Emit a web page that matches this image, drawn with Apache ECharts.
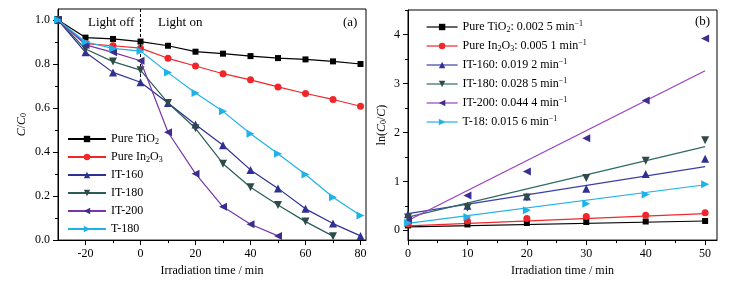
<!DOCTYPE html>
<html>
<head>
<meta charset="utf-8">
<script src="https://cdn.jsdelivr.net/npm/echarts@6/dist/echarts.min.js"></script>
<style>
  html, body { margin: 0; padding: 0; background: #fff; }
  #main { width: 755px; height: 282px; }
</style>
</head>
<body>
<div id="main"></div>
<script>
// (a) C/C0 vs time
var timeA = [-30, -20, -10, 0, 10, 20, 30, 40, 50, 60, 70, 80];
var tio2A = [1.0, 0.92, 0.914, 0.902, 0.883, 0.856, 0.847, 0.836, 0.827, 0.821, 0.812, 0.80];
var in2o3A = [1.0, 0.893, 0.883, 0.872, 0.826, 0.791, 0.756, 0.728, 0.696, 0.666, 0.639, 0.608];
var it160A = [1.0, 0.853, 0.762, 0.717, 0.623, 0.525, 0.431, 0.319, 0.235, 0.142, 0.075, 0.019];
var it180A = [1.0, 0.868, 0.811, 0.772, 0.623, 0.508, 0.347, 0.24, 0.159, 0.084, 0.018];
var it200A = [1.0, 0.887, 0.853, 0.815, 0.49, 0.302, 0.151, 0.072, 0.019];
var t180A = [1.0, 0.90, 0.871, 0.859, 0.761, 0.668, 0.585, 0.483, 0.392, 0.298, 0.195, 0.112];

// (b) ln(C0/C) vs time, with linear fits
var timeB = [0, 10, 20, 30, 40, 50];
var tio2B = [0.1, 0.12, 0.15, 0.17, 0.18, 0.19];
var in2o3B = [0.13, 0.19, 0.24, 0.28, 0.31, 0.36];
var it160B = [0.33, 0.5, 0.69, 0.85, 1.15, 1.46];
var it180B = [0.26, 0.46, 0.67, 1.07, 1.42, 1.84];
var it200B = [0.2, 0.71, 1.2, 1.88, 2.65, 3.92];
var t180B = [0.15, 0.27, 0.41, 0.54, 0.73, 0.94];
var fitX = [0, 50];
var fitTio2 = [0.07, 0.19];
var fitIn2o3 = [0.09, 0.34];
var fitIt160 = [0.34, 1.30];
var fitIt180 = [0.27, 1.71];
var fitIt200 = [0.2, 3.26];
var fitT180 = [0.14, 0.93];

var namesA = ['Pure TiO2', 'Pure In2O3', 'IT-160', 'IT-180', 'IT-200', 'T-180'];
var namesB = ['Pure TiO2: 0.002 5 min-1', 'Pure In2O3: 0.005 1 min-1', 'IT-160: 0.019 2 min-1',
  'IT-180: 0.028 5 min-1', 'IT-200: 0.044 4 min-1', 'T-18: 0.015 6 min-1'];
var richNames = {
  'Pure TiO2': 'Pure TiO{s|2}',
  'Pure In2O3': 'Pure In{s|2}O{s|3}',
  'Pure TiO2: 0.002 5 min-1': 'Pure TiO{s|2}: 0.002 5 min{p|\u22121}',
  'Pure In2O3: 0.005 1 min-1': 'Pure In{s|2}O{s|3}: 0.005 1 min{p|\u22121}',
  'IT-160: 0.019 2 min-1': 'IT-160: 0.019 2 min{p|\u22121}',
  'IT-180: 0.028 5 min-1': 'IT-180: 0.028 5 min{p|\u22121}',
  'IT-200: 0.044 4 min-1': 'IT-200: 0.044 4 min{p|\u22121}',
  'T-18: 0.015 6 min-1': 'T-18: 0.015 6 min{p|\u22121}'
};

var serif = 'Liberation Serif';
var lineCol = ['#000000', '#f0262a', '#2e3192', '#2b5d58', '#7a35a8', '#1fb2e8'];
var markCol = ['#000000', '#f0262a', '#2e3192', '#2f4a48', '#3b2e8c', '#1fb2e8'];
var fitCol = ['#000000', '#f0262a', '#3a3fa8', '#2e6a66', '#9b3fbf', '#1fb2e8'];
var symbols = ['rect', 'circle', 'triangle', 'triangle', 'triangle', 'triangle'];
var rotates = [0, 0, 0, 180, 90, -90];
var sizes = [6, 7, 8, 8, 8, 8];

var rich = {
  s: { fontFamily: serif, fontSize: 8, lineHeight: 8, verticalAlign: 'bottom' },
  p: { fontFamily: serif, fontSize: 8, lineHeight: 8, verticalAlign: 'top' },
  i: { fontFamily: serif, fontSize: 12, fontStyle: 'italic' }
};

function pairs(xs, ys) {
  return ys.map(function (v, i) { return [xs[i], v]; });
}

var dataA = [tio2A, in2o3A, it160A, it180A, it200A, t180A];
var dataB = [tio2B, in2o3B, it160B, it180B, it200B, t180B];
var fits = [fitTio2, fitIn2o3, fitIt160, fitIt180, fitIt200, fitT180];

var series = [];
for (var k = 0; k < 6; k++) {
  var s = {
    name: namesA[k],
    type: 'line',
    xAxisIndex: 0, yAxisIndex: 0,
    data: pairs(timeA, dataA[k]),
    symbol: symbols[k], symbolRotate: rotates[k], symbolSize: sizes[k],
    lineStyle: { color: lineCol[k], width: 1.2 },
    itemStyle: { color: markCol[k] },
    z: 3 + k
  };
  if (k == 0) {
    s.markLine = {
      silent: true, symbol: 'none', label: { show: false },
      lineStyle: { color: '#000', type: [3, 2], width: 1 },
      data: [[{ coord: [0, 1.05] }, { coord: [0, 0.7] }]]
    };
  }
  series.push(s);
}
for (var k = 0; k < 6; k++) {
  series.push({
    name: 'fit' + k,
    type: 'line',
    xAxisIndex: 2, yAxisIndex: 2,
    data: pairs(fitX, fits[k]),
    showSymbol: false,
    lineStyle: { color: fitCol[k], width: 1.2 },
    z: 2
  });
  series.push({
    name: namesB[k],
    type: 'line',
    xAxisIndex: 2, yAxisIndex: 2,
    data: pairs(timeB, dataB[k]),
    symbol: symbols[k], symbolRotate: rotates[k], symbolSize: sizes[k],
    lineStyle: { color: fitCol[k], opacity: 0 },
    itemStyle: { color: markCol[k] },
    z: 3 + k
  });
}

function mainAxis(extra) {
  var a = {
    type: 'value',
    axisLine: { show: true, onZero: false, lineStyle: { color: '#000', width: 1 } },
    axisTick: { show: true, length: 5, lineStyle: { color: '#000' } },
    axisLabel: { color: '#000', fontFamily: serif, fontSize: 12, margin: 8 },
    splitLine: { show: false },
    nameTextStyle: { color: '#000', fontFamily: serif, fontSize: 12, rich: rich }
  };
  for (var key in extra) a[key] = extra[key];
  return a;
}
function minorAxis(extra) {
  var a = {
    type: 'value',
    axisLine: { show: false, onZero: false },
    axisTick: { show: true, length: 3, lineStyle: { color: '#000' } },
    axisLabel: { show: false },
    splitLine: { show: false }
  };
  for (var key in extra) a[key] = extra[key];
  return a;
}

var option = {
  backgroundColor: '#fff',
  animation: false,
  grid: [
    { left: 58, right: 389, top: 9, bottom: 39, show: true, borderColor: '#000', borderWidth: 1 },
    { left: 408, right: 38, top: 10, bottom: 39, show: true, borderColor: '#000', borderWidth: 1 }
  ],
  legend: [
    {
      data: namesA, orient: 'vertical', left: 62, top: 127,
      itemWidth: 38, itemHeight: 8, itemGap: 4,
      textStyle: { fontFamily: serif, fontSize: 12, color: '#000', lineHeight: 14, rich: rich },
      formatter: function (n) { return richNames[n] || n; }
    },
    {
      data: namesB, orient: 'vertical', left: 421, top: 15,
      itemWidth: 31, itemHeight: 8, itemGap: 5,
      lineStyle: { opacity: 1, width: 1.2 },
      textStyle: { fontFamily: serif, fontSize: 12, color: '#000', lineHeight: 14, rich: rich },
      formatter: function (n) { return richNames[n] || n; }
    }
  ],
  xAxis: [
    mainAxis({
      gridIndex: 0, min: -30, max: 82, position: 'bottom',
      axisLabel: { color: '#000', fontFamily: serif, fontSize: 12, margin: 8, customValues: [-20, 0, 20, 40, 60, 80] },
      axisTick: { show: true, length: 5, lineStyle: { color: '#000' }, customValues: [-20, 0, 20, 40, 60, 80] },
      name: 'Irradiation time / min', nameLocation: 'middle', nameGap: 22
    }),
    minorAxis({ gridIndex: 0, min: -30, max: 82, position: 'bottom',
      axisTick: { show: true, length: 3, lineStyle: { color: '#000' }, customValues: [-10, 10, 30, 50, 70] } }),
    mainAxis({
      gridIndex: 1, min: 0, max: 52, position: 'bottom',
      axisLabel: { color: '#000', fontFamily: serif, fontSize: 12, margin: 8, customValues: [0, 10, 20, 30, 40, 50] },
      axisTick: { show: true, length: 5, lineStyle: { color: '#000' }, customValues: [0, 10, 20, 30, 40, 50] },
      name: 'Irradiation time / min', nameLocation: 'middle', nameGap: 22
    }),
    minorAxis({ gridIndex: 1, min: 0, max: 52, position: 'bottom',
      axisTick: { show: true, length: 3, lineStyle: { color: '#000' }, customValues: [5, 15, 25, 35, 45] } })
  ],
  yAxis: [
    mainAxis({
      gridIndex: 0, min: 0, max: 1.05, position: 'left',
      axisLabel: { color: '#000', fontFamily: serif, fontSize: 12, margin: 8,
        customValues: [0, 0.2, 0.4, 0.6, 0.8, 1.0], formatter: function (v) { return v.toFixed(1); } },
      axisTick: { show: true, length: 5, lineStyle: { color: '#000' }, customValues: [0, 0.2, 0.4, 0.6, 0.8, 1.0] },
      name: '{i|C}/{i|C}{s|0}', nameLocation: 'middle', nameGap: 30
    }),
    minorAxis({ gridIndex: 0, min: 0, max: 1.05, position: 'left',
      axisTick: { show: true, length: 3, lineStyle: { color: '#000' }, customValues: [0.1, 0.3, 0.5, 0.7, 0.9] } }),
    mainAxis({
      gridIndex: 1, min: -0.2, max: 4.5, position: 'left',
      axisLabel: { color: '#000', fontFamily: serif, fontSize: 12, margin: 8, customValues: [0, 1, 2, 3, 4] },
      axisTick: { show: true, length: 5, lineStyle: { color: '#000' }, customValues: [0, 1, 2, 3, 4] },
      name: 'ln({i|C}{s|0}/{i|C})', nameLocation: 'middle', nameGap: 20
    }),
    minorAxis({ gridIndex: 1, min: -0.2, max: 4.5, position: 'left',
      axisTick: { show: true, length: 3, lineStyle: { color: '#000' }, customValues: [0.5, 1.5, 2.5, 3.5, 4.5] } })
  ],
  graphic: [
    { type: 'text', left: 88, top: 16, style: { text: 'Light off', fontFamily: serif, fontSize: 13, fill: '#000' } },
    { type: 'text', left: 158, top: 16, style: { text: 'Light on', fontFamily: serif, fontSize: 13, fill: '#000' } },
    { type: 'text', left: 343, top: 16, style: { text: '(a)', fontFamily: serif, fontSize: 13, fill: '#000' } },
    { type: 'text', left: 695, top: 15, style: { text: '(b)', fontFamily: serif, fontSize: 13, fill: '#000' } }
  ],
  series: series
};

var chart = echarts.init(document.getElementById('main'));
chart.setOption(option);
</script>
</body>
</html>
